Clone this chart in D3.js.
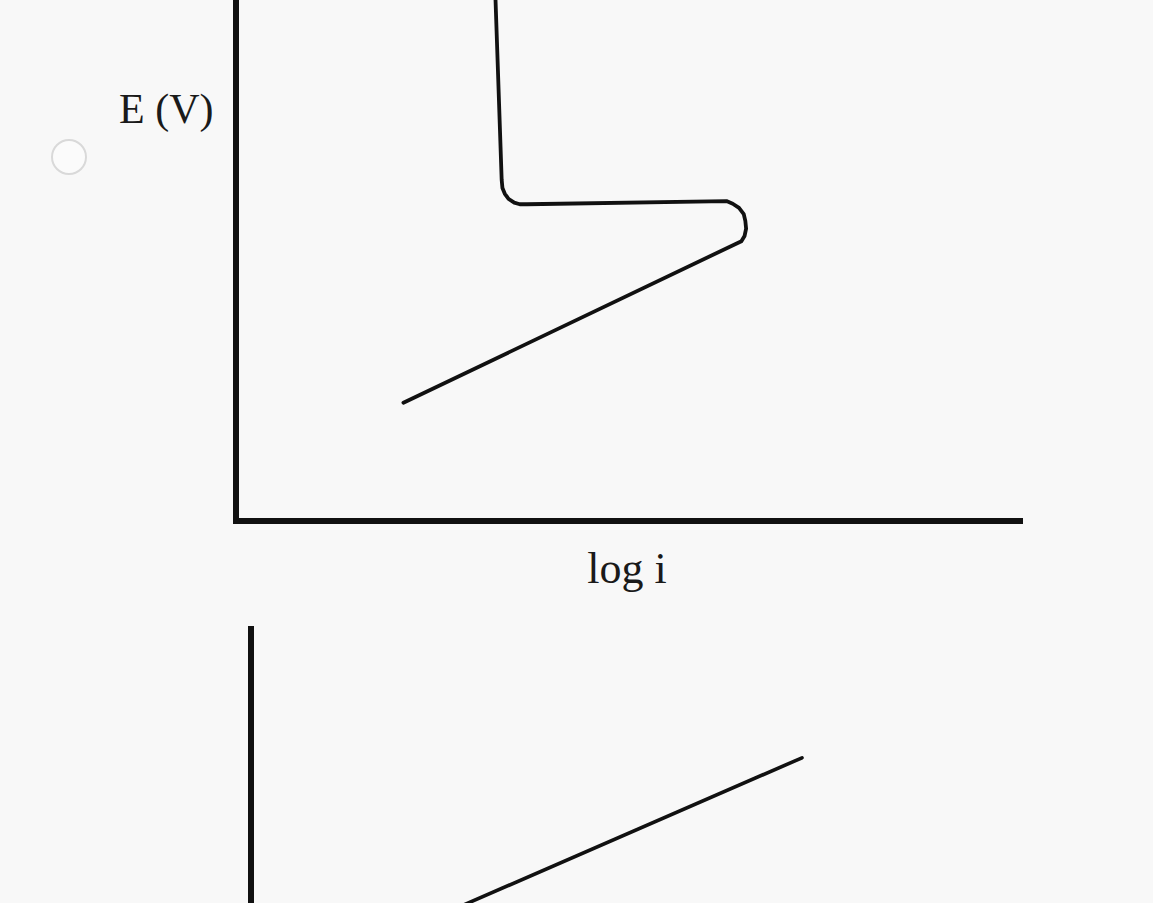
<!DOCTYPE html>
<html>
<head>
<meta charset="utf-8">
<script src="https://cdn.jsdelivr.net/npm/d3@7"></script>
<style>
  html, body { margin: 0; padding: 0; background: #f8f8f8; overflow: hidden; }
  svg { display: block; }
  text { font-family: "Liberation Serif", "Times New Roman", serif; fill: #1a1a1a; }
</style>
</head>
<body>
<svg id="chart" width="1153" height="903"></svg>
<script>
// Polarization curve (upper panel): E vs log i, in axis units
const curveLogI = [3.30, 3.38, 3.39, 3.42, 3.47, 3.54, 3.61, 3.70, 6.24, 6.32, 6.40, 6.46, 6.48, 6.49, 6.47, 6.43, 2.13];
const curveE    = [10.08, 6.55, 6.39, 6.28, 6.18, 6.11, 6.08, 6.08, 6.14, 6.09, 6.01, 5.89, 5.76, 5.61, 5.47, 5.37, 2.27];

// Straight Tafel line (lower panel)
const lineLogI = [2.27, 7.01];
const lineE    = [4.36, 7.47];

// Axis labels
const yLabel = "E (V)";
const xLabel = "log i";

const svg = d3.select("#chart");

// Upper panel scales
const x1 = d3.scaleLinear().domain([0, 10]).range([236, 1022]);
const y1 = d3.scaleLinear().domain([0, 10]).range([521, 0]);

// Lower panel scales
const x2 = d3.scaleLinear().domain([0, 10]).range([251, 1037]);
const y2 = d3.scaleLinear().domain([0, 10]).range([1147, 626]);

// Radio button beside the option
svg.append("circle")
  .attr("cx", 69).attr("cy", 157).attr("r", 17)
  .attr("fill", "#fbfbfb").attr("stroke", "#d9d9d9").attr("stroke-width", 2);

// Upper panel axes
const g1 = svg.append("g");
g1.append("line")
  .attr("x1", x1(0)).attr("x2", x1(0))
  .attr("y1", y1(10.3)).attr("y2", y1(0))
  .attr("stroke", "#111").attr("stroke-width", 6).attr("stroke-linecap", "square");
g1.append("line")
  .attr("x1", x1(0)).attr("x2", x1(10) - 2)
  .attr("y1", y1(0)).attr("y2", y1(0))
  .attr("stroke", "#111").attr("stroke-width", 6).attr("stroke-linecap", "square");

g1.append("text")
  .attr("x", 119).attr("y", 123)
  .attr("font-size", 42)
  .text(yLabel);
g1.append("text")
  .attr("x", 627).attr("y", 583)
  .attr("text-anchor", "middle")
  .attr("font-size", 44)
  .text(xLabel);

const curveData = curveLogI.map((v, i) => [v, curveE[i]]);
g1.append("path")
  .datum(curveData)
  .attr("fill", "none")
  .attr("stroke", "#111")
  .attr("stroke-width", 3.8)
  .attr("stroke-linejoin", "round")
  .attr("stroke-linecap", "round")
  .attr("d", d3.line()
    .x(d => x1(d[0]))
    .y(d => y1(d[1]))
    .curve(d3.curveLinear));

// Lower panel
const g2 = svg.append("g");
g2.append("line")
  .attr("x1", x2(0)).attr("x2", x2(0))
  .attr("y1", y2(10)).attr("y2", y2(0))
  .attr("stroke", "#111").attr("stroke-width", 6).attr("stroke-linecap", "butt");

const lineData = lineLogI.map((v, i) => [v, lineE[i]]);
g2.append("path")
  .datum(lineData)
  .attr("fill", "none")
  .attr("stroke", "#111")
  .attr("stroke-width", 3.6)
  .attr("stroke-linecap", "round")
  .attr("d", d3.line().x(d => x2(d[0])).y(d => y2(d[1])));
</script>
</body>
</html>
